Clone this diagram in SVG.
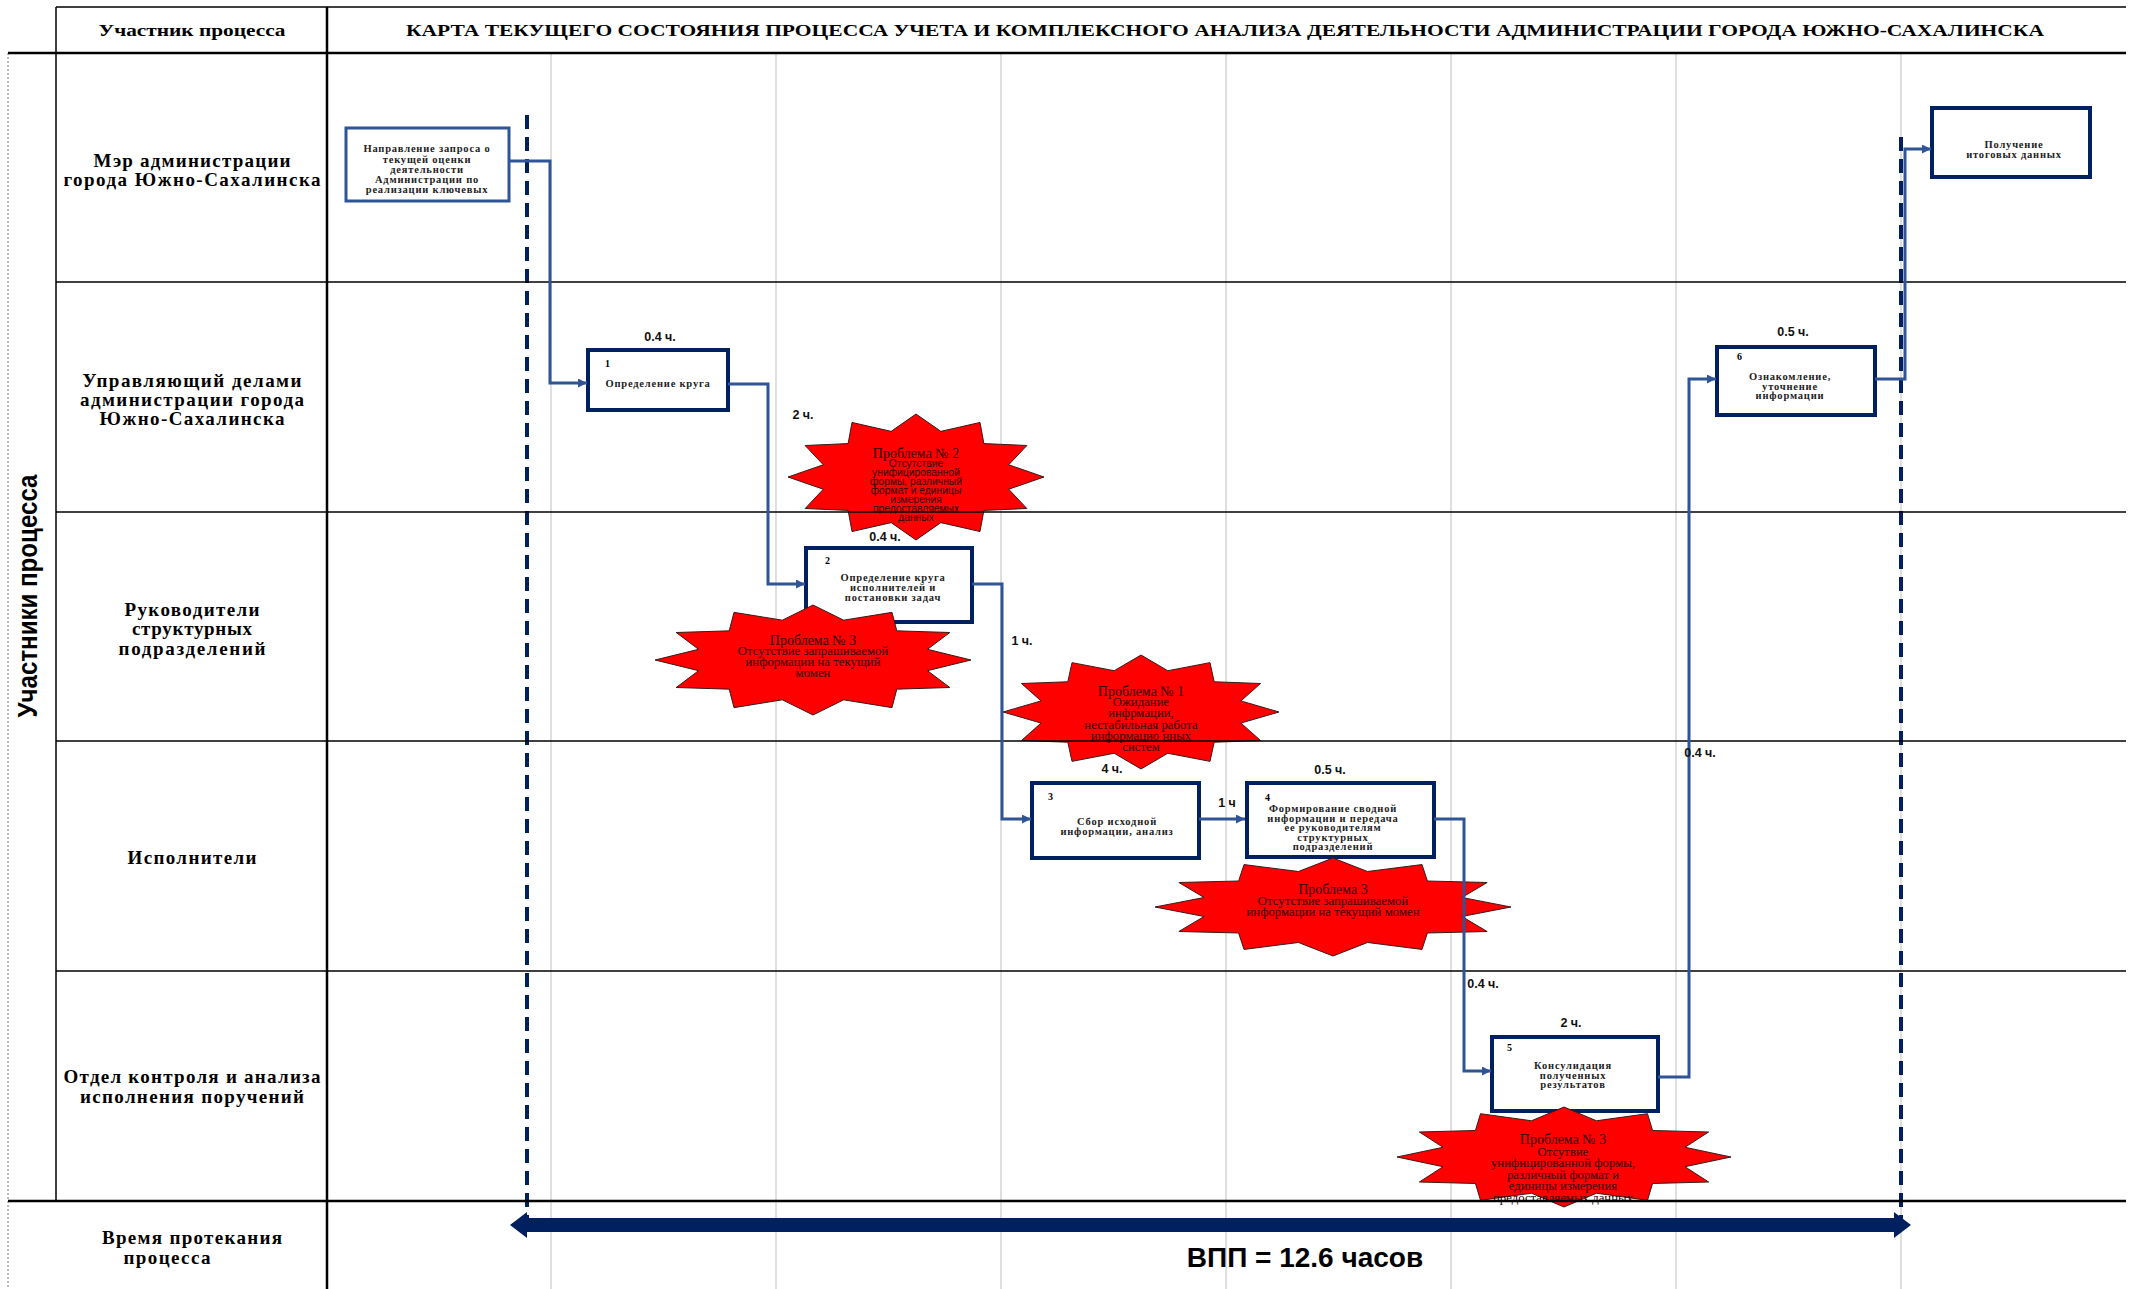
<svg xmlns="http://www.w3.org/2000/svg" xmlns:xlink="http://www.w3.org/1999/xlink" width="2134" height="1289" viewBox="0 0 2134 1289">
<style>
.lane{font-family:"Liberation Serif","Times New Roman",serif;font-weight:bold;font-size:19px;text-anchor:middle;dominant-baseline:central;fill:#000}
.hd{font-family:"Liberation Serif","Times New Roman",serif;font-weight:bold;font-size:17.5px;text-anchor:middle;dominant-baseline:central;fill:#000}
.vt{font-family:"Liberation Sans",Arial,sans-serif;font-weight:bold;font-size:28px;text-anchor:middle;dominant-baseline:central;fill:#000}
.box{fill:#fff;stroke:#002060;stroke-width:4}
.box0{fill:#fff;stroke:#2F5597;stroke-width:3}
.bt{font-family:"Liberation Serif","Times New Roman",serif;font-weight:bold;font-size:10.5px;letter-spacing:0.8px;text-anchor:middle;dominant-baseline:central;fill:#222}
.num{font-family:"Liberation Serif","Times New Roman",serif;font-weight:bold;font-size:10px;dominant-baseline:central;fill:#000}
.tl{font-family:"Liberation Sans",Arial,sans-serif;font-weight:bold;font-size:12.5px;text-anchor:middle;dominant-baseline:central;fill:#111}
.star{fill:#FF0000;stroke:#3a1a1a;stroke-width:1;vector-effect:non-scaling-stroke}
.st{font-family:"Liberation Serif","Times New Roman",serif;font-size:12.8px;text-anchor:middle;dominant-baseline:central;fill:#2a0000}
.stt{font-size:14px}
.ss{font-family:"Liberation Sans",Arial,sans-serif;font-size:10.3px;text-anchor:middle;dominant-baseline:central;fill:#2a0000}
.conn{fill:none;stroke:#2F5597;stroke-width:3}
.dash{stroke:#002060;stroke-width:4;stroke-dasharray:14 8;fill:none}
.grid{stroke:#d4d4d4;stroke-width:1.5}
.rule{stroke:#000;stroke-width:1.5}
.thick{stroke:#000;stroke-width:2.5}
</style>
<defs>
<path id="star12" class="star" d="M0,-100 L19.41,-72.44 L50,-86.6 L53.03,-53.03 L86.6,-50 L72.44,-19.41 L100,0 L72.44,19.41 L86.6,50 L53.03,53.03 L50,86.6 L19.41,72.44 L0,100 L-19.41,72.44 L-50,86.6 L-53.03,53.03 L-86.6,50 L-72.44,19.41 L-100,0 L-72.44,-19.41 L-86.6,-50 L-53.03,-53.03 L-50,-86.6 L-19.41,-72.44 Z"/>
<marker id="arr" viewBox="0 0 10 10" refX="10" refY="5" markerWidth="11" markerHeight="9" markerUnits="userSpaceOnUse" orient="auto">
<path d="M0,0 L10,5 L0,10 Z" fill="#2F5597"/>
</marker>
</defs>
<rect x="0" y="0" width="2134" height="1289" fill="#fff"/>

<g id="grid">
<line class="grid" x1="551" y1="53" x2="551" y2="1289"/>
<line class="grid" x1="776" y1="53" x2="776" y2="1289"/>
<line class="grid" x1="1001" y1="53" x2="1001" y2="1289"/>
<line class="grid" x1="1226" y1="53" x2="1226" y2="1289"/>
<line class="grid" x1="1451" y1="53" x2="1451" y2="1289"/>
<line class="grid" x1="1676" y1="53" x2="1676" y2="1289"/>
<line class="grid" x1="1901" y1="53" x2="1901" y2="1289"/>
<line x1="8" y1="53" x2="8" y2="1289" stroke="#777" stroke-width="1" stroke-dasharray="2 2"/>
<line class="rule" x1="56" y1="7" x2="2126" y2="7"/>
<line class="rule" x1="56" y1="7" x2="56" y2="1201"/>
<line class="thick" x1="327" y1="7" x2="327" y2="1289"/>
<line class="thick" x1="8" y1="53" x2="2126" y2="53"/>
</g>

<g id="header">
<text class="hd" x="192" y="30" textLength="187" lengthAdjust="spacingAndGlyphs">Участник процесса</text>
<text class="hd" x="1225" y="30" textLength="1638" lengthAdjust="spacingAndGlyphs">КАРТА ТЕКУЩЕГО СОСТОЯНИЯ ПРОЦЕССА УЧЕТА И КОМПЛЕКСНОГО АНАЛИЗА ДЕЯТЕЛЬНОСТИ АДМИНИСТРАЦИИ ГОРОДА ЮЖНО-САХАЛИНСКА</text>
<text class="vt" transform="translate(27,596) rotate(-90)" textLength="243" lengthAdjust="spacingAndGlyphs">Участники процесса</text>
</g>

<g id="lanes">
<text class="lane" x="192" y="160" textLength="197" lengthAdjust="spacing">Мэр администрации</text>
<text class="lane" x="192" y="179" textLength="257" lengthAdjust="spacing">города Южно-Сахалинска</text>
<text class="lane" x="192" y="380" textLength="219" lengthAdjust="spacing">Управляющий делами</text>
<text class="lane" x="192" y="399" textLength="224" lengthAdjust="spacing">администрации города</text>
<text class="lane" x="192" y="418" textLength="185" lengthAdjust="spacing">Южно-Сахалинска</text>
<text class="lane" x="192" y="609" textLength="135" lengthAdjust="spacing">Руководители</text>
<text class="lane" x="192" y="628" textLength="120" lengthAdjust="spacing">структурных</text>
<text class="lane" x="192" y="648" textLength="147" lengthAdjust="spacing">подразделений</text>
<text class="lane" x="192" y="857" textLength="129" lengthAdjust="spacing">Исполнители</text>
<text class="lane" x="192" y="1076" textLength="257" lengthAdjust="spacing">Отдел контроля и анализа</text>
<text class="lane" x="192" y="1096" textLength="224" lengthAdjust="spacing">исполнения поручений</text>
<text class="lane" x="192" y="1237" textLength="180" lengthAdjust="spacing">Время протекания</text>
<text class="lane" x="167" y="1257" textLength="87" lengthAdjust="spacing">процесса</text>
</g>

<g id="timeline">
<line class="dash" x1="527" y1="115" x2="527" y2="1237"/>
<line class="dash" x1="1901" y1="137" x2="1901" y2="1237"/>
<polygon points="510,1225 527,1212 527,1218 1894,1218 1894,1212 1911,1225 1894,1238 1894,1232 527,1232 527,1238" fill="#002060"/>
<text x="1305" y="1257" font-family="Liberation Sans, Arial, sans-serif" font-weight="bold" font-size="28" text-anchor="middle" dominant-baseline="central" fill="#000">ВПП = 12.6 часов</text>
</g>

<g id="node-start">
<rect class="box0" x="346" y="128" width="163" height="73"/>
<text class="bt" x="427" y="148">Направление запроса о</text>
<text class="bt" x="427" y="159">текущей оценки</text>
<text class="bt" x="427" y="169">деятельности</text>
<text class="bt" x="427" y="179">Администрации по</text>
<text class="bt" x="427" y="189">реализации ключевых</text>
</g>

<g id="node-1">
<rect class="box" x="588" y="350" width="140" height="60"/>
<text class="num" x="605" y="363">1</text>
<text class="bt" x="658" y="383">Определение круга</text>
</g>

<g id="node-2">
<rect class="box" x="806" y="548" width="166" height="74"/>
<text class="num" x="825" y="560">2</text>
<text class="bt" x="893" y="577">Определение круга</text>
<text class="bt" x="893" y="587">исполнителей и</text>
<text class="bt" x="893" y="597">постановки задач</text>
</g>

<g id="node-3">
<rect class="box" x="1032" y="783" width="167" height="75"/>
<text class="num" x="1048" y="796">3</text>
<text class="bt" x="1117" y="821">Сбор исходной</text>
<text class="bt" x="1117" y="831">информации, анализ</text>
</g>

<g id="node-4">
<rect class="box" x="1247" y="783" width="187" height="74"/>
<text class="num" x="1265" y="797">4</text>
<text class="bt" x="1333" y="808">Формирование сводной</text>
<text class="bt" x="1333" y="818">информации и передача</text>
<text class="bt" x="1333" y="827">ее руководителям</text>
<text class="bt" x="1333" y="837">структурных</text>
<text class="bt" x="1333" y="846">подразделений</text>
</g>

<g id="node-5">
<rect class="box" x="1492" y="1037" width="166" height="74"/>
<text class="num" x="1507" y="1047">5</text>
<text class="bt" x="1573" y="1065">Консулидация</text>
<text class="bt" x="1573" y="1075">полученных</text>
<text class="bt" x="1573" y="1084">результатов</text>
</g>

<g id="node-6">
<rect class="box" x="1717" y="347" width="158" height="68"/>
<text class="num" x="1737" y="356">6</text>
<text class="bt" x="1790" y="376">Ознакомление,</text>
<text class="bt" x="1790" y="386">уточнение</text>
<text class="bt" x="1790" y="395">информации</text>
</g>

<g id="node-end">
<rect class="box" x="1932" y="108" width="158" height="69"/>
<text class="bt" x="2014" y="144">Получение</text>
<text class="bt" x="2014" y="154">итоговых данных</text>
</g>

<g id="problem-2">
<use xlink:href="#star12" transform="translate(916,477) scale(1.28,0.63)"/>
<text class="st stt" x="916" y="453">Проблема № 2</text>
<text class="ss" x="916" y="463">Отсутствие</text>
<text class="ss" x="916" y="472">унифицированной</text>
<text class="ss" x="916" y="481">формы, различный</text>
<text class="ss" x="916" y="490">формат и единицы</text>
<text class="ss" x="916" y="499">измерения</text>
<text class="ss" x="916" y="508">предоставляемых</text>
<text class="ss" x="916" y="517">данных</text>
</g>

<g id="problem-3a">
<use xlink:href="#star12" transform="translate(813,660) scale(1.58,0.55)"/>
<text class="st stt" x="813" y="640">Проблема № 3</text>
<text class="st" x="813" y="651">Отсутствие запрашиваемой</text>
<text class="st" x="813" y="662">информации на текущий</text>
<text class="st" x="813" y="673">момен</text>
</g>

<g id="problem-1">
<use xlink:href="#star12" transform="translate(1141,712) scale(1.38,0.57)"/>
<text class="st stt" x="1141" y="691">Проблема № 1</text>
<text class="st" x="1141" y="702">Ожидание</text>
<text class="st" x="1141" y="713">инфрмации,</text>
<text class="st" x="1141" y="725">нестабильная работа</text>
<text class="st" x="1141" y="736">информацио нных</text>
<text class="st" x="1141" y="747">систем</text>
</g>

<g id="problem-3b">
<use xlink:href="#star12" transform="translate(1333,907) scale(1.78,0.49)"/>
<text class="st stt" x="1333" y="889">Проблема 3</text>
<text class="st" x="1333" y="901">Отсутствие запрашиваемой</text>
<text class="st" x="1333" y="912">информации на текущий момен</text>
</g>

<g id="problem-3c">
<use xlink:href="#star12" transform="translate(1564,1157) scale(1.67,0.50)"/>
<text class="st stt" x="1563" y="1139">Проблема № 3</text>
<text class="st" x="1563" y="1152">Отсутвие</text>
<text class="st" x="1563" y="1163">унифицированной формы,</text>
<text class="st" x="1563" y="1175">различный формат и</text>
<text class="st" x="1563" y="1186">единицы измерения</text>
<text class="st" x="1563" y="1198">предоставляемых данных</text>
</g>

<g id="lane-rules">
<line class="rule" x1="56" y1="282" x2="2126" y2="282"/>
<line class="rule" x1="56" y1="512" x2="2126" y2="512"/>
<line class="rule" x1="56" y1="741" x2="2126" y2="741"/>
<line class="rule" x1="56" y1="971" x2="2126" y2="971"/>
<line class="thick" x1="8" y1="1201" x2="2126" y2="1201"/>
</g>

<g id="connectors">
<path class="conn" d="M509,161 H550 V383 H587" marker-end="url(#arr)"/>
<path class="conn" d="M728,384 H768 V584 H805" marker-end="url(#arr)"/>
<path class="conn" d="M972,584 H1002 V819 H1031" marker-end="url(#arr)"/>
<path class="conn" d="M1199,819 H1245" marker-end="url(#arr)"/>
<path class="conn" d="M1434,819 H1464 V1071 H1491" marker-end="url(#arr)"/>
<path class="conn" d="M1658,1077 H1689 V379 H1716" marker-end="url(#arr)"/>
<path class="conn" d="M1875,379 H1905 V149 H1931" marker-end="url(#arr)"/>
</g>

<g id="durations">
<text class="tl" x="660" y="337">0.4 ч.</text>
<text class="tl" x="803" y="415">2 ч.</text>
<text class="tl" x="885" y="537">0.4 ч.</text>
<text class="tl" x="1022" y="641">1 ч.</text>
<text class="tl" x="1112" y="769">4 ч.</text>
<text class="tl" x="1227" y="803">1 ч</text>
<text class="tl" x="1330" y="770">0.5 ч.</text>
<text class="tl" x="1483" y="984">0.4 ч.</text>
<text class="tl" x="1571" y="1023">2 ч.</text>
<text class="tl" x="1700" y="753">0.4 ч.</text>
<text class="tl" x="1793" y="332">0.5 ч.</text>
</g>
</svg>
